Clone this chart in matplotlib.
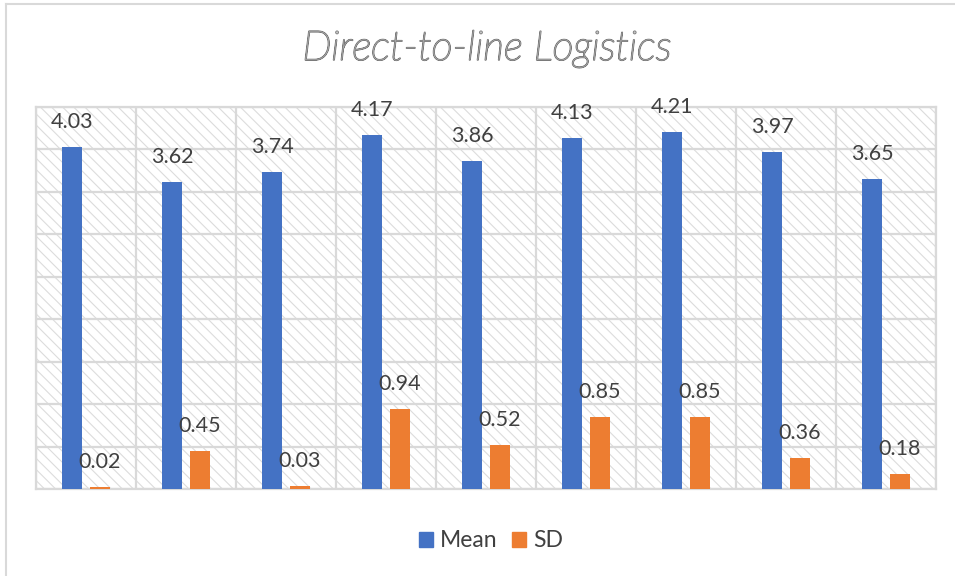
import numpy as np
import matplotlib
matplotlib.use('Agg')
import matplotlib.pyplot as plt
import matplotlib.patheffects as pe
from matplotlib.patches import Rectangle
from matplotlib.lines import Line2D

plt.rcParams['font.family'] = ['Lato', 'DejaVu Sans']
plt.rcParams['hatch.linewidth'] = 0.8

# Survey scores per item (no item names on the axis)
mean_vals = [4.03, 3.62, 3.74, 4.17, 3.86, 4.13, 4.21, 3.97, 3.65]
sd_vals = [0.02, 0.45, 0.03, 0.94, 0.52, 0.85, 0.85, 0.36, 0.18]
series_names = ['Mean', 'SD']

blue = '#4472C4'
orange = '#ED7D31'
grid_col = '#D9D9D9'
text_col = '#404040'

fig = plt.figure(figsize=(9.55, 5.76), dpi=100)
ax = fig.add_axes([36 / 955, 87 / 576, 900 / 955, 382 / 576])

x = np.arange(len(mean_vals))
width = 0.2
offset = 0.14

# hatched plot background
ax.add_patch(Rectangle((0, 0), 1, 1, transform=ax.transAxes, facecolor='white',
                       hatch='\\\\\\', edgecolor='#DCDCDC', linewidth=0, zorder=0))

b1 = ax.bar(x - offset, mean_vals, width, color=blue, zorder=3)
b2 = ax.bar(x + offset, sd_vals, width, color=orange, zorder=3)

for rects, vals in ((b1, mean_vals), (b2, sd_vals)):
    for r, v in zip(rects, vals):
        ax.annotate(f'{v:.2f}', (r.get_x() + r.get_width() / 2, v),
                    xytext=(0, 18), textcoords='offset points',
                    ha='center', va='center', fontsize=15.5, color=text_col, zorder=4)

ax.set_xlim(-0.5, len(mean_vals) - 0.5)
ax.set_ylim(0, 4.5)
ax.set_yticks(np.arange(0, 4.51, 0.5))
ax.set_xticks(np.arange(-0.5, len(mean_vals), 1.0))
ax.grid(True, color=grid_col, linewidth=1.6, zorder=1)
ax.tick_params(left=False, bottom=False, labelleft=False, labelbottom=False)
for s in ax.spines.values():
    s.set_color(grid_col)
    s.set_linewidth(1.6)

fig.text(0.510, 0.915, 'Direct-to-line Logistics', ha='center', va='center',
         fontsize=29.5, style='italic', fontweight='light', color='#C4C4C4',
         path_effects=[pe.Stroke(linewidth=1.2, foreground='#7A7A7A'), pe.Normal()])

handles = [Rectangle((0, 0), 1, 1, color=blue), Rectangle((0, 0), 1, 1, color=orange)]
fig.legend(handles, series_names, loc='center', bbox_to_anchor=(0.514, 0.061),
           ncol=2, frameon=False, fontsize=16.5, handlelength=0.6, handleheight=0.6,
           handletextpad=0.3, columnspacing=0.65, labelcolor=text_col)

# chart border, top and left edges only
fig.add_artist(Line2D([6 / 955, 1], [1 - 4 / 576, 1 - 4 / 576], color=grid_col, lw=1.5))
fig.add_artist(Line2D([6 / 955, 6 / 955], [0, 1 - 4 / 576], color=grid_col, lw=1.5))

fig.savefig('out.png', dpi=100, facecolor='white')
